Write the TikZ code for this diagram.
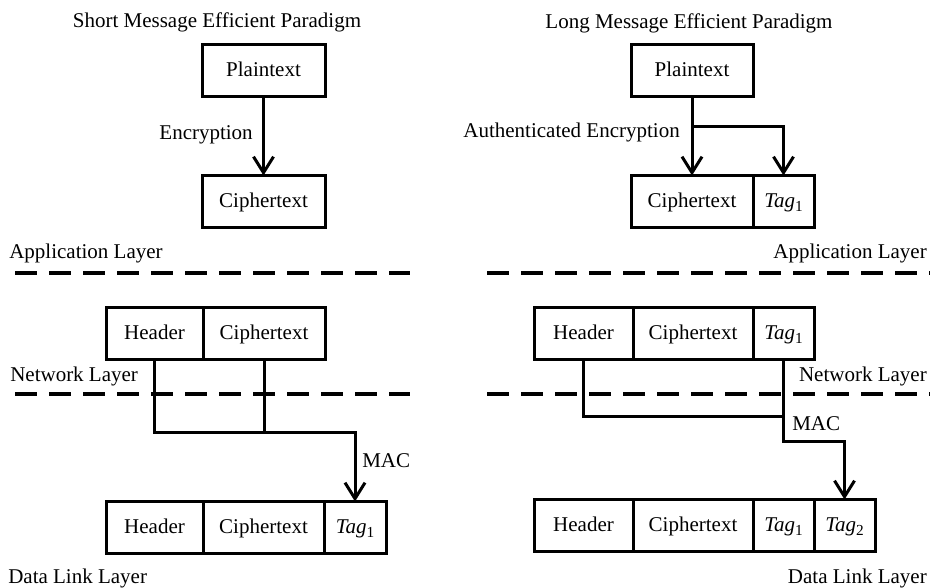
\documentclass[tikz,border=0pt]{standalone}
\usepackage{fontspec}
\setmainfont{Liberation Serif}
\usetikzlibrary{arrows.meta}
\newcommand\tg[1]{\textit{Tag}\raisebox{-0.45ex}{\fontsize{11.5}{12}\selectfont #1}}
\begin{document}
\begin{tikzpicture}[x=0.75pt,y=-0.75pt,
  font=\fontsize{15.75}{19}\selectfont,
  cell/.style={draw, line width=2.25pt, minimum height=39pt, inner sep=0pt, outer sep=0pt,
    text height=12pt, text depth=3pt},
  conn/.style={line width=2.25pt},
  arr/.style={conn, -{Straight Barb[length=12pt,width=15pt]}},
  sep/.style={line width=3pt, dash pattern=on 16.5pt off 9pt},
  lbl/.style={inner sep=0pt}]
\useasboundingbox (0,0) rectangle (931,587);
% titles
\node[lbl, anchor=base] (ts) at (217,27) {Short Message Efficient Paradigm};
\node[lbl, anchor=base] (tl) at (689,28) {Long Message Efficient Paradigm};
% application layer
\node[cell, minimum width=92.25pt] (p1) at (263.5,70) {Plaintext};
\node[cell, minimum width=92.25pt] (c1) at (263.5,201.5) {Ciphertext};
\node[cell, minimum width=91.5pt] (p2) at (692,70) {Plaintext};
\node[cell, minimum width=91.5pt] (c2) at (692,201.5) {Ciphertext};
\node[cell, minimum width=45.75pt, anchor=west] (t2) at (c2.east) {\tg{1}};
\draw[arr] (p1.south) -- (c1.north);
\node[lbl, anchor=base east] (enc) at (253,139) {Encryption};
\coordinate (b1) at (692,126);
\draw[arr] (p2.south) -- (c2.north);
\draw[arr] (b1) -- (b1 -| t2.north) -- (t2.north);
\node[lbl, anchor=base east] (ae) at (680,137) {Authenticated Encryption};
\node[lbl, anchor=base west] (al1) at (9,258) {Application Layer};
\node[lbl, anchor=base east] (al2) at (927,258) {Application Layer};
\coordinate (s1a) at (15,273); \coordinate (s1b) at (410,273);
\coordinate (s2a) at (487,273); \coordinate (s2b) at (930,273);
\draw[sep] (s1a) -- (s1b);
\draw[sep] (s2a) -- (s2b);
% network layer
\node[cell, minimum width=72.75pt] (nh1) at (154.5,333.5) {Header};
\node[cell, minimum width=91.5pt, anchor=west] (nc1) at (nh1.east) {Ciphertext};
\node[cell, minimum width=74.25pt] (nh2) at (583.5,333.5) {Header};
\node[cell, minimum width=90pt, anchor=west] (nc2) at (nh2.east) {Ciphertext};
\node[cell, minimum width=45.75pt, anchor=west] (nt2) at (nc2.east) {\tg{1}};
\node[lbl, anchor=base west] (nl1) at (10,381) {Network Layer};
\node[lbl, anchor=base east] (nl2) at (927,381) {Network Layer};
\coordinate (s3a) at (15,394); \coordinate (s3b) at (410,394);
\coordinate (s4a) at (487,394); \coordinate (s4b) at (930,394);
\draw[sep] (s3a) -- (s3b);
\draw[sep] (s4a) -- (s4b);
% data link layer
\node[cell, minimum width=72.75pt] (dh1) at (154.5,527.5) {Header};
\node[cell, minimum width=90.75pt, anchor=west] (dc1) at (dh1.east) {Ciphertext};
\node[cell, minimum width=46.5pt, anchor=west] (dt1) at (dc1.east) {\tg{1}};
\node[cell, minimum width=74.25pt] (dh2) at (583.5,525.5) {Header};
\node[cell, minimum width=90pt, anchor=west] (dc2) at (dh2.east) {Ciphertext};
\node[cell, minimum width=45.75pt, anchor=west] (dt2) at (dc2.east) {\tg{1}};
\node[cell, minimum width=45.75pt, anchor=west] (du2) at (dt2.east) {\tg{2}};
\node[lbl, anchor=base west] (dl1) at (8,583) {Data Link Layer};
\node[lbl, anchor=base east] (dl2) at (927,583) {Data Link Layer};
% MAC connectors left
\coordinate (j1) at (dt1.north |- 0,432);
\draw[arr] (nh1.south) |- (j1) -- (dt1.north);
\draw[conn] (nc1.south) -- (nc1.south |- j1);
\node[lbl, anchor=base west] (m1) at (362,467) {MAC};
% MAC connectors right
\coordinate (k1) at (nt2.south |- 0,416);
\coordinate (k2) at (du2.north |- 0,441);
\draw[conn] (nh2.south) |- (k1);
\draw[arr] (nt2.south) |- (k2) -- (du2.north);
\node[lbl, anchor=base west] (m2) at (792,430) {MAC};
\end{tikzpicture}
\end{document}
